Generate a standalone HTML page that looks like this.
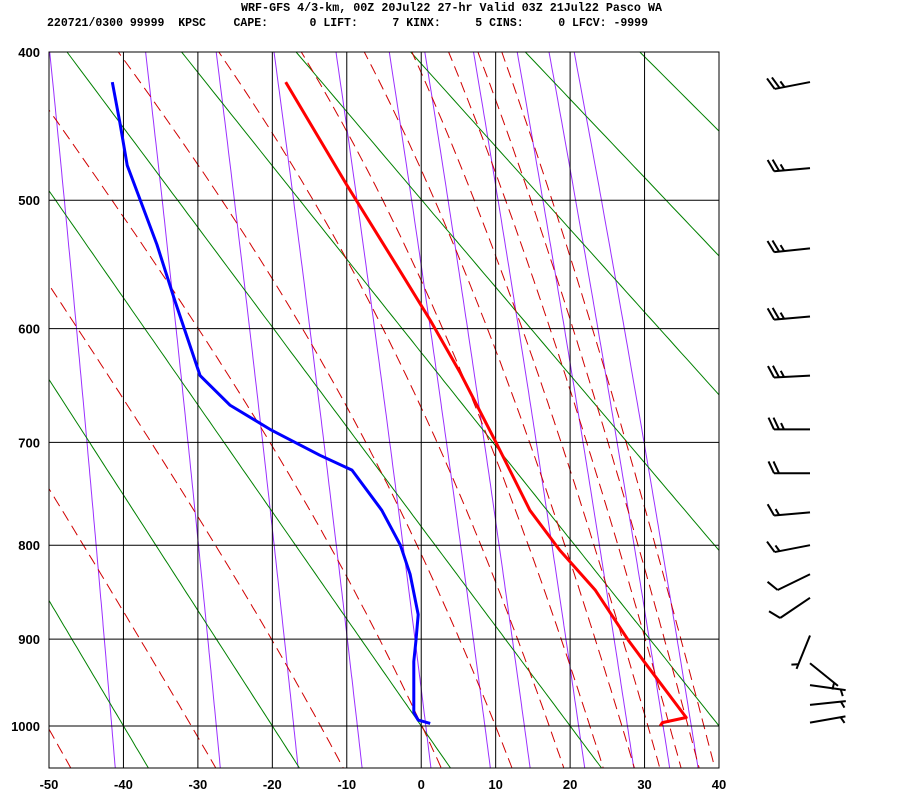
<!DOCTYPE html>
<html><head><meta charset="utf-8"><style>
html,body{margin:0;padding:0;background:#fff;}
svg{display:block;}
text{font-family:"Liberation Sans",sans-serif;font-weight:bold;}
.mono{font-family:"Liberation Mono",monospace;font-weight:bold;font-size:11.5px;}
</style></head><body>
<svg id="chart" width="900" height="800" viewBox="0 0 900 800" xmlns="http://www.w3.org/2000/svg">
<defs><clipPath id="plotclip"><rect x="49" y="52" width="670" height="716"/></clipPath></defs>
<rect width="900" height="800" fill="#fff"/>
<text class="mono" x="241" y="11" textLength="421" lengthAdjust="spacingAndGlyphs">WRF-GFS 4/3-km, 00Z 20Jul22 27-hr Valid 03Z 21Jul22 Pasco WA</text>
<text class="mono" x="47" y="26" textLength="601" lengthAdjust="spacingAndGlyphs" xml:space="preserve">220721/0300 99999  KPSC    CAPE:      0 LIFT:     7 KINX:     5 CINS:     0 LFCV: -9999</text>
<g id="grid" clip-path="url(#plotclip)"></g>
<g id="axes"></g>
<g id="series" clip-path="url(#plotclip)"></g>
<g id="barbs"></g>
</svg>
<script>
// ---- data ----
const tempT = [-18.2,-10.0,-2.9,1.2,5.2,10.05,14.6,18.6,23.4,27.8,30.1,35.6,32.4,32.1];
const tempP = [419,489,553,593,637,700,765,805,847,901,927,990,996,1000];
const dewT = [-41.5,-40.5,-39.5,-35.5,-33.1,-29.7,-25.7,-20.3,-13.6,-9.3,-5.3,-2.8,-1.5,-0.4,-0.7,-1.0,-1.0,-0.4,1.2];
const dewP = [419,445,475,533,577,640,666,688,712,726,765,800,830,873,901,925,984,993,997];
const windP = [419,477,536,590,640,688,729,767,800,830,855,896,927,952,975,996];
const windDir = [259,265,264,265,267,270,270,265,259,244,236,202,129,98,84,80];
const windSpd = [25,25,25,25,25,25,20,15,15,10,10,5,5,5,5,5];
const pTicks = [400,500,600,700,800,900,1000];
const tTicks = [-50,-40,-30,-20,-10,0,10,20,30,40];
const dryTheta = [-40,-20,0,20,40,60,80,100,120,140];
const moistThetaE = [223,243,263,283,303,323,343,363,383,403,423,443];
const mixRatio = [0.1,0.4,1,2,4,7,10,16,24,32,40];

// ---- axis functions ----
const P0 = Math.pow(400,0.286);
function X(t){ return 49 + (t+50)*670/90; }
function Y(p){ return 52 + (Math.pow(p,0.286)-P0)*405.4; }
const NS="http://www.w3.org/2000/svg";
function mk(tag, attrs, parent){ const e=document.createElementNS(NS,tag); for(const k in attrs) e.setAttribute(k,attrs[k]); parent.appendChild(e); return e; }
function es(T){ return 6.112*Math.exp(17.67*T/(T+243.5)); }
function thetaE(T,p){ const TK=T+273.15; const e=es(T); const w=0.622*e/(p-e); return TK*Math.pow(1000/p,0.286)*Math.exp(2.5e6*w/(1004*TK)); }
const grid=document.getElementById('grid'), axes=document.getElementById('axes'), series=document.getElementById('series'), barbs=document.getElementById('barbs');
const pList=[]; for(let p=380;p<=1060;p+=5) pList.push(p);

mixRatio.forEach(w=>{
  const pts=pList.map(p=>{ const e=w*p/(622+w); const l=Math.log(e/6.112); const T=243.5*l/(17.67-l); return X(T).toFixed(1)+','+Y(p).toFixed(1); });
  const el=mk('polyline',{points:pts.join(' '),fill:'none',stroke:'#9b30ff','stroke-width':1},grid);
  
  
});
dryTheta.forEach(th=>{
  const pts=pList.map(p=>{ const T=(th+273.15)*Math.pow(p/1000,0.286)-273.15; return X(T).toFixed(1)+','+Y(p).toFixed(1); });
  const el=mk('polyline',{points:pts.join(' '),fill:'none',stroke:'#008000','stroke-width':1},grid);
  
  
});
moistThetaE.forEach(te=>{
  const pts=pList.map(p=>{ let lo=-130,hi=60; for(let i=0;i<50;i++){ const m=(lo+hi)/2; if(thetaE(m,p)>te) hi=m; else lo=m; } return X((lo+hi)/2).toFixed(1)+','+Y(p).toFixed(1); });
  const el=mk('polyline',{points:pts.join(' '),fill:'none',stroke:'#d00000','stroke-width':1,'stroke-dasharray':'11 6'},grid);
  
  
});
pTicks.forEach(p=>{
  const el=mk('line',{x1:49,x2:719,y1:Y(p),y2:Y(p),stroke:'#000','stroke-width':1},axes);
  
  
  const t=mk('text',{x:40,y:Y(p)+5,'text-anchor':'end','font-size':'13px'},axes);
  t.textContent=p;
  
  
});
tTicks.forEach(tv=>{
  const el=mk('line',{x1:X(tv),x2:X(tv),y1:52,y2:768,stroke:'#000','stroke-width':1},axes);
  
  
  const t=mk('text',{x:X(tv),y:789,'text-anchor':'middle','font-size':'13px'},axes);
  t.textContent=tv;
  
  
});
const frame=mk('rect',{x:49,y:52,width:670,height:716,fill:'none',stroke:'#000','stroke-width':1},axes);



const dl=mk('polyline',{points:dewT.map((t,i)=>X(t).toFixed(1)+','+Y(dewP[i]).toFixed(1)).join(' '),fill:'none',stroke:'#0000ff','stroke-width':3,'stroke-linejoin':'round'},series);


const tl=mk('polyline',{points:tempT.map((t,i)=>X(t).toFixed(1)+','+Y(tempP[i]).toFixed(1)).join(' '),fill:'none',stroke:'#ff0000','stroke-width':3,'stroke-linejoin':'round'},series);



windP.forEach((p,i)=>{
  const sx=810, sy=Y(p), L=36;
  const a=windDir[i]*Math.PI/180;
  const ux=Math.sin(a), uy=-Math.cos(a);
  const ex=sx+ux*L, ey=sy+uy*L;
  const g=mk('g',{},barbs);
  
  
  mk('line',{x1:sx,y1:sy,x2:ex,y2:ey,stroke:'#000','stroke-width':2},g);
  const r=65*Math.PI/180;
  const bx=ux*Math.cos(r)-uy*Math.sin(r), by=ux*Math.sin(r)+uy*Math.cos(r);
  const spd=windSpd[i]; let k=0;
  const full=Math.floor(spd/10), half=(spd%10)>=5;
  for(let f=0;f<full;f++){ const px=ex-ux*5*k, py=ey-uy*5*k; mk('line',{x1:px,y1:py,x2:px+bx*13,y2:py+by*13,stroke:'#000','stroke-width':2},g); k++; }
  if(half){ if(full===0) k=1; const px=ex-ux*5*k, py=ey-uy*5*k; mk('line',{x1:px,y1:py,x2:px+bx*7,y2:py+by*7,stroke:'#000','stroke-width':2},g); }
});
</script>
</body></html>
